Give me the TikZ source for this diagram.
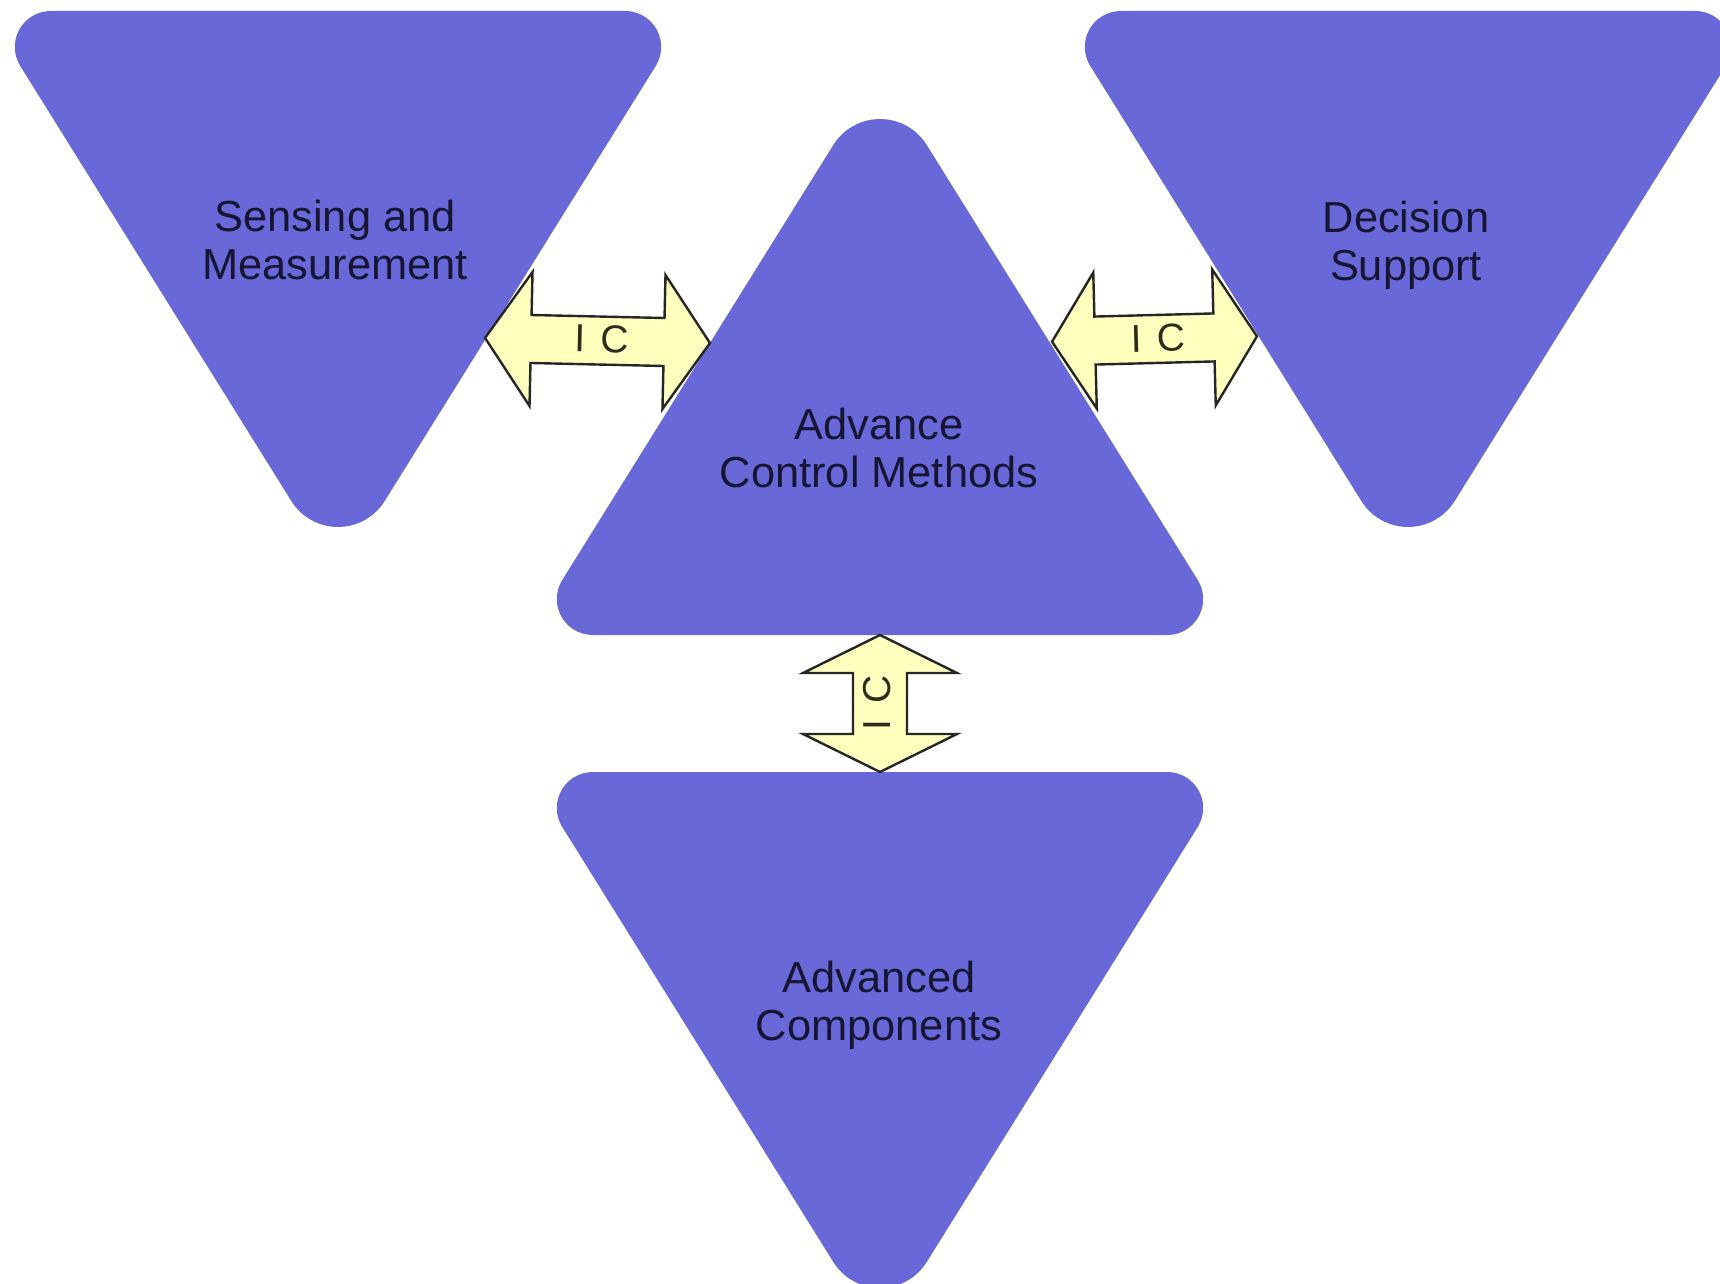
\documentclass[tikz,border=0pt]{standalone}
\usepackage{fontspec}
\setmainfont{Liberation Sans}
\definecolor{triblue}{RGB}{104,104,216}
\definecolor{arrowfill}{RGB}{255,255,190}
\definecolor{tritext}{RGB}{22,22,52}
\definecolor{iclabel}{RGB}{45,45,30}
\tikzset{
  % rounded triangle pointing down, origin at the middle of its top edge
  pics/downtri/.style={code={
    \fill[triblue] (-287.17,0) -- (287.17,0)
      arc[start angle=-90, end angle=31.92, radius=36]
      -- (46.70,490.05)
      arc[start angle=31.92, end angle=148.08, radius=55]
      -- (-317.72,55.02)
      arc[start angle=148.08, end angle=270, radius=36] -- cycle;
  }},
  % double-headed block arrow: length / head length / head half-width / shaft half-width
  pics/icarrow/.style args={#1/#2/#3/#4}{code={
    \filldraw[fill=arrowfill, draw=black!85, line width=1.2pt, line join=miter]
      ({-#1/2},0) -- ({-#1/2+#2},{-#3}) -- ({-#1/2+#2},{-#4})
      -- ({#1/2-#2},{-#4}) -- ({#1/2-#2},{-#3}) -- ({#1/2},0)
      -- ({#1/2-#2},{#3}) -- ({#1/2-#2},{#4}) -- ({-#1/2+#2},{#4})
      -- ({-#1/2+#2},{#3}) -- cycle;
  }},
  trilabel/.style={text=tritext, align=center, inner sep=0pt,
    font=\fontsize{21.7pt}{24pt}\selectfont},
  iclbl/.style={text=iclabel, inner sep=0pt,
    font=\fontsize{19.5pt}{22pt}\selectfont}
}
\begin{document}
\begin{tikzpicture}[x=0.5pt, y=-0.5pt]
\useasboundingbox (0,0) rectangle (1720,1284);
\clip (0,0) rectangle (1720,1284);
\fill[white] (0,0) rectangle (1720,1284);

% the four triangles
\pic at (338,11) {downtri};
\pic at (1408,11) {downtri};
\pic[yscale=-1] at (880,635) {downtri};
\pic at (880,772) {downtri};

% their captions
\node[trilabel] (sense) at (335,240) {Sensing and\\Measurement};
\node[trilabel] (decide) at (1406,245) {Decision\\Support};
\node[trilabel] (control) at (879,448) {Advance\\Control Methods};
\node[trilabel] (parts) at (879,1005) {Advanced\\Components};

% interconnection arrows
\coordinate (icleft) at (597.5,340.5);
\coordinate (icright) at (1154.5,339);
\coordinate (icdown) at (880,703.5);

\pic[rotate=-1.3] at (icleft) {icarrow=225/46/67/24};
\pic[rotate=1.5] at (icright) {icarrow=205/43/68/24};
\pic[rotate=90] at (icdown) {icarrow=137/38/77/27};

\node[iclbl, rotate=-1.3] (icleftlbl) at (602,339) {I\kern0.12em{} C};
\node[iclbl, rotate=1.5] (icrightlbl) at (1158,338) {I\kern0.12em{} C};
\node[iclbl, rotate=90] (icdownlbl) at (877,703) {I\kern0.12em{} C};
\end{tikzpicture}
\end{document}
